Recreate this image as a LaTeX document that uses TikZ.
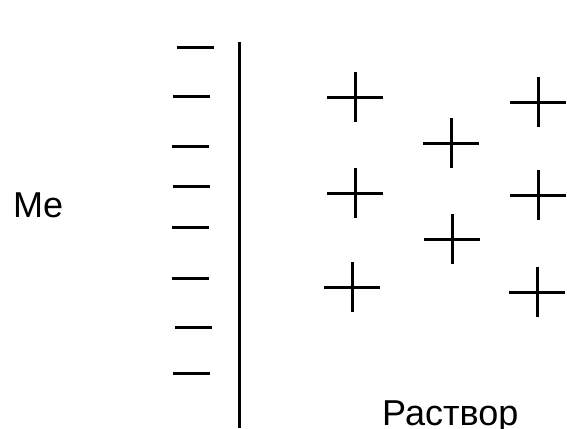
\documentclass[tikz,border=0pt]{standalone}
\usepackage{fontspec}
\setmainfont{Liberation Sans}
\usepackage{tikz}
\tikzset{
    electrode/.style={draw=black, line width=3pt},
    charge/.style={draw=black, line width=3pt},
    label_text/.style={font=\fontsize{36}{40}\selectfont, inner sep=0pt},
    anion/.pic={\draw[charge] (-18.5,0) -- (18.5,0);},
    cation/.pic={\draw[charge] (-28,0) -- (28,0); \draw[charge] (0,-25) -- (0,25);}
}
\begin{document}
\begin{tikzpicture}[x=1pt, y=-1pt]
  \useasboundingbox (0,0) rectangle (567,428);
  % Metal surface
  \coordinate (surf_top) at (239,42);
  \coordinate (surf_bot) at (239,428);
  \draw[electrode] (surf_top) -- (surf_bot);

  % Negative charges on the metal
  \pic at (195,48) {anion};
  \pic at (191.5,96) {anion};
  \pic at (190.5,146) {anion};
  \pic at (191.5,186) {anion};
  \pic at (190.5,227) {anion};
  \pic at (190.5,278) {anion};
  \pic at (193.5,327) {anion};
  \pic at (191.5,373) {anion};

  % Positive ions in solution
  \pic at (355,97) {cation};
  \pic at (451,143) {cation};
  \pic at (538,102) {cation};
  \pic at (355,193) {cation};
  \pic at (538,195) {cation};
  \pic at (452,239) {cation};
  \pic at (352,287) {cation};
  \pic at (537,292) {cation};

  % Labels
  \node[label_text, anchor=base west] (metal) at (13,217) {Me};
  \node[label_text, anchor=base west] (solution) at (382,425) {Раствор};
\end{tikzpicture}
\end{document}
